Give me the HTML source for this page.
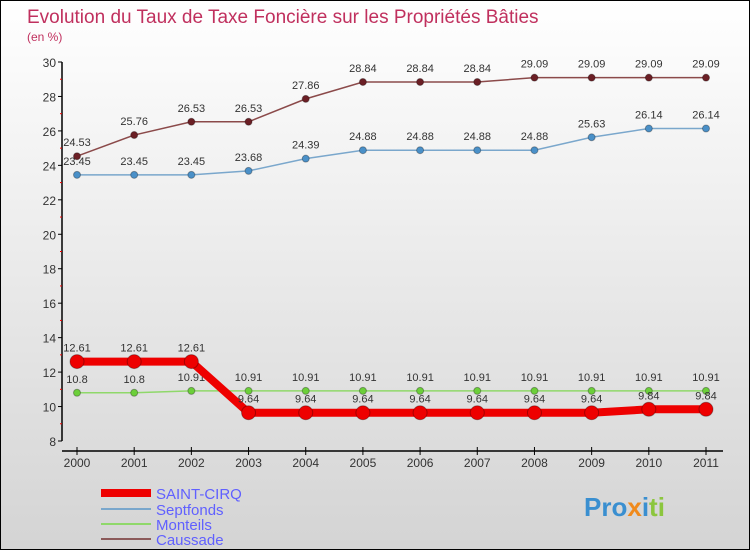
<!DOCTYPE html>
<html><head><meta charset="utf-8"><style>
body{margin:0}
#wrap{position:relative;width:748px;height:548px;border:1px solid #000;background:linear-gradient(#ffffff,#d4d4d4);font-family:"Liberation Sans",sans-serif;overflow:hidden}
</style></head><body>
<div id="wrap">
<svg id="svg" width="748" height="548" style="position:absolute;left:0;top:0">
<text x="26" y="22" font-size="19" fill="#c0305e">Evolution du Taux de Taxe Foncière sur les Propriétés Bâties</text>
<text x="26" y="40" font-size="12" fill="#c0305e">(en %)</text>
<g id="axes"></g><g id="series"></g>
<g>
<line x1="100" y1="492" x2="150" y2="492" stroke="#e00" stroke-width="8"/>
<text x="155" y="498" font-size="15" fill="#6060ff">SAINT-CIRQ</text>
<line x1="100" y1="508" x2="150" y2="508" stroke="#7aa7cc" stroke-width="2"/>
<text x="155" y="514" font-size="15" fill="#6060ff">Septfonds</text>
<line x1="100" y1="523" x2="150" y2="523" stroke="#8fd86a" stroke-width="2"/>
<text x="155" y="529" font-size="15" fill="#6060ff">Monteils</text>
<line x1="100" y1="538" x2="150" y2="538" stroke="#8b5a5a" stroke-width="2"/>
<text x="155" y="544" font-size="15" fill="#6060ff">Caussade</text>
</g>
<g font-size="26" font-weight="bold">
<text x="583" y="515"><tspan fill="#3a8fd0">Pro</tspan><tspan fill="#f08a1c">x</tspan><tspan fill="#3a8fd0">i</tspan><tspan fill="#8cc63e">ti</tspan></text>
</g>
</svg>
</div>
<script>
const years=["2000","2001","2002","2003","2004","2005","2006","2007","2008","2009","2010","2011"];
const yTicks=[8,10,12,14,16,18,20,22,24,26,28,30];
const saintCirq=[12.61,12.61,12.61,9.64,9.64,9.64,9.64,9.64,9.64,9.64,9.84,9.84];
const septfonds=[23.45,23.45,23.45,23.68,24.39,24.88,24.88,24.88,24.88,25.63,26.14,26.14];
const monteils=[10.8,10.8,10.91,10.91,10.91,10.91,10.91,10.91,10.91,10.91,10.91,10.91];
const caussade=[24.53,25.76,26.53,26.53,27.86,28.84,28.84,28.84,29.09,29.09,29.09,29.09];
const NS="http://www.w3.org/2000/svg";
const yMin=8,yMax=30,yTop=61,yBot=440,x0=76,x1=705;
const y=v=>yBot-(v-yMin)/(yMax-yMin)*(yBot-yTop);
const x=i=>x0+i*(x1-x0)/(years.length-1);
function mk(t,a,p){const e=document.createElementNS(NS,t);for(const k in a)e.setAttribute(k,a[k]);p.appendChild(e);return e;}
const ax=document.getElementById('axes');
let yl=mk('line',{x1:61,y1:yTop,x2:61,y2:yBot,stroke:'#000','stroke-width':1.5},ax);


yTicks.forEach((t,i)=>{
 mk('line',{x1:57,x2:61,y1:y(t),y2:y(t),stroke:'#000'},ax);
 if(i<yTicks.length-1) mk('line',{x1:59,x2:61,y1:y(t+1),y2:y(t+1),stroke:'#e00'},ax);
 const tx=mk('text',{x:55,y:y(t)+5,'text-anchor':'end','font-size':12,fill:'#333'},ax);
 tx.textContent=t;
 
 
});
let xl=mk('line',{x1:61,y1:450,x2:722,y2:450,stroke:'#000','stroke-width':1.5},ax);


years.forEach((yr,i)=>{
 mk('line',{x1:x(i),x2:x(i),y1:446,y2:454,stroke:'#000'},ax);
 const tx=mk('text',{x:x(i),y:466,'text-anchor':'middle','font-size':12,fill:'#333'},ax);
 tx.textContent=yr;
 
 
});
const sg=document.getElementById('series');
function draw(name,data,color,w,r,dot){
 const g=mk('g',{},sg);
 
 
 const pl=mk('polyline',{points:data.map((v,i)=>x(i)+','+y(v)).join(' '),fill:'none',stroke:color,'stroke-width':w},g);
 
 
 data.forEach((v,i)=>{
  const c=mk('circle',{cx:x(i),cy:y(v),r:r,fill:dot,stroke:'rgba(0,0,0,0.3)'},g);
  
  
  const t=mk('text',{x:x(i),y:y(v)-10,'text-anchor':'middle','font-size':11,fill:'#333'},g);
  t.textContent=String(v);
  
  
 });
}
draw('monteils',monteils,'#8fd86a',1.5,3.5,'#6ccf3a');
draw('septfonds',septfonds,'#7aa7cc',1.5,3.5,'#4a90c8');
draw('caussade',caussade,'#8b4a4a',1.5,3.5,'#6b1f25');
draw('saint-cirq',saintCirq,'#e00',8,7,'#e00');
</script>
</body></html>
